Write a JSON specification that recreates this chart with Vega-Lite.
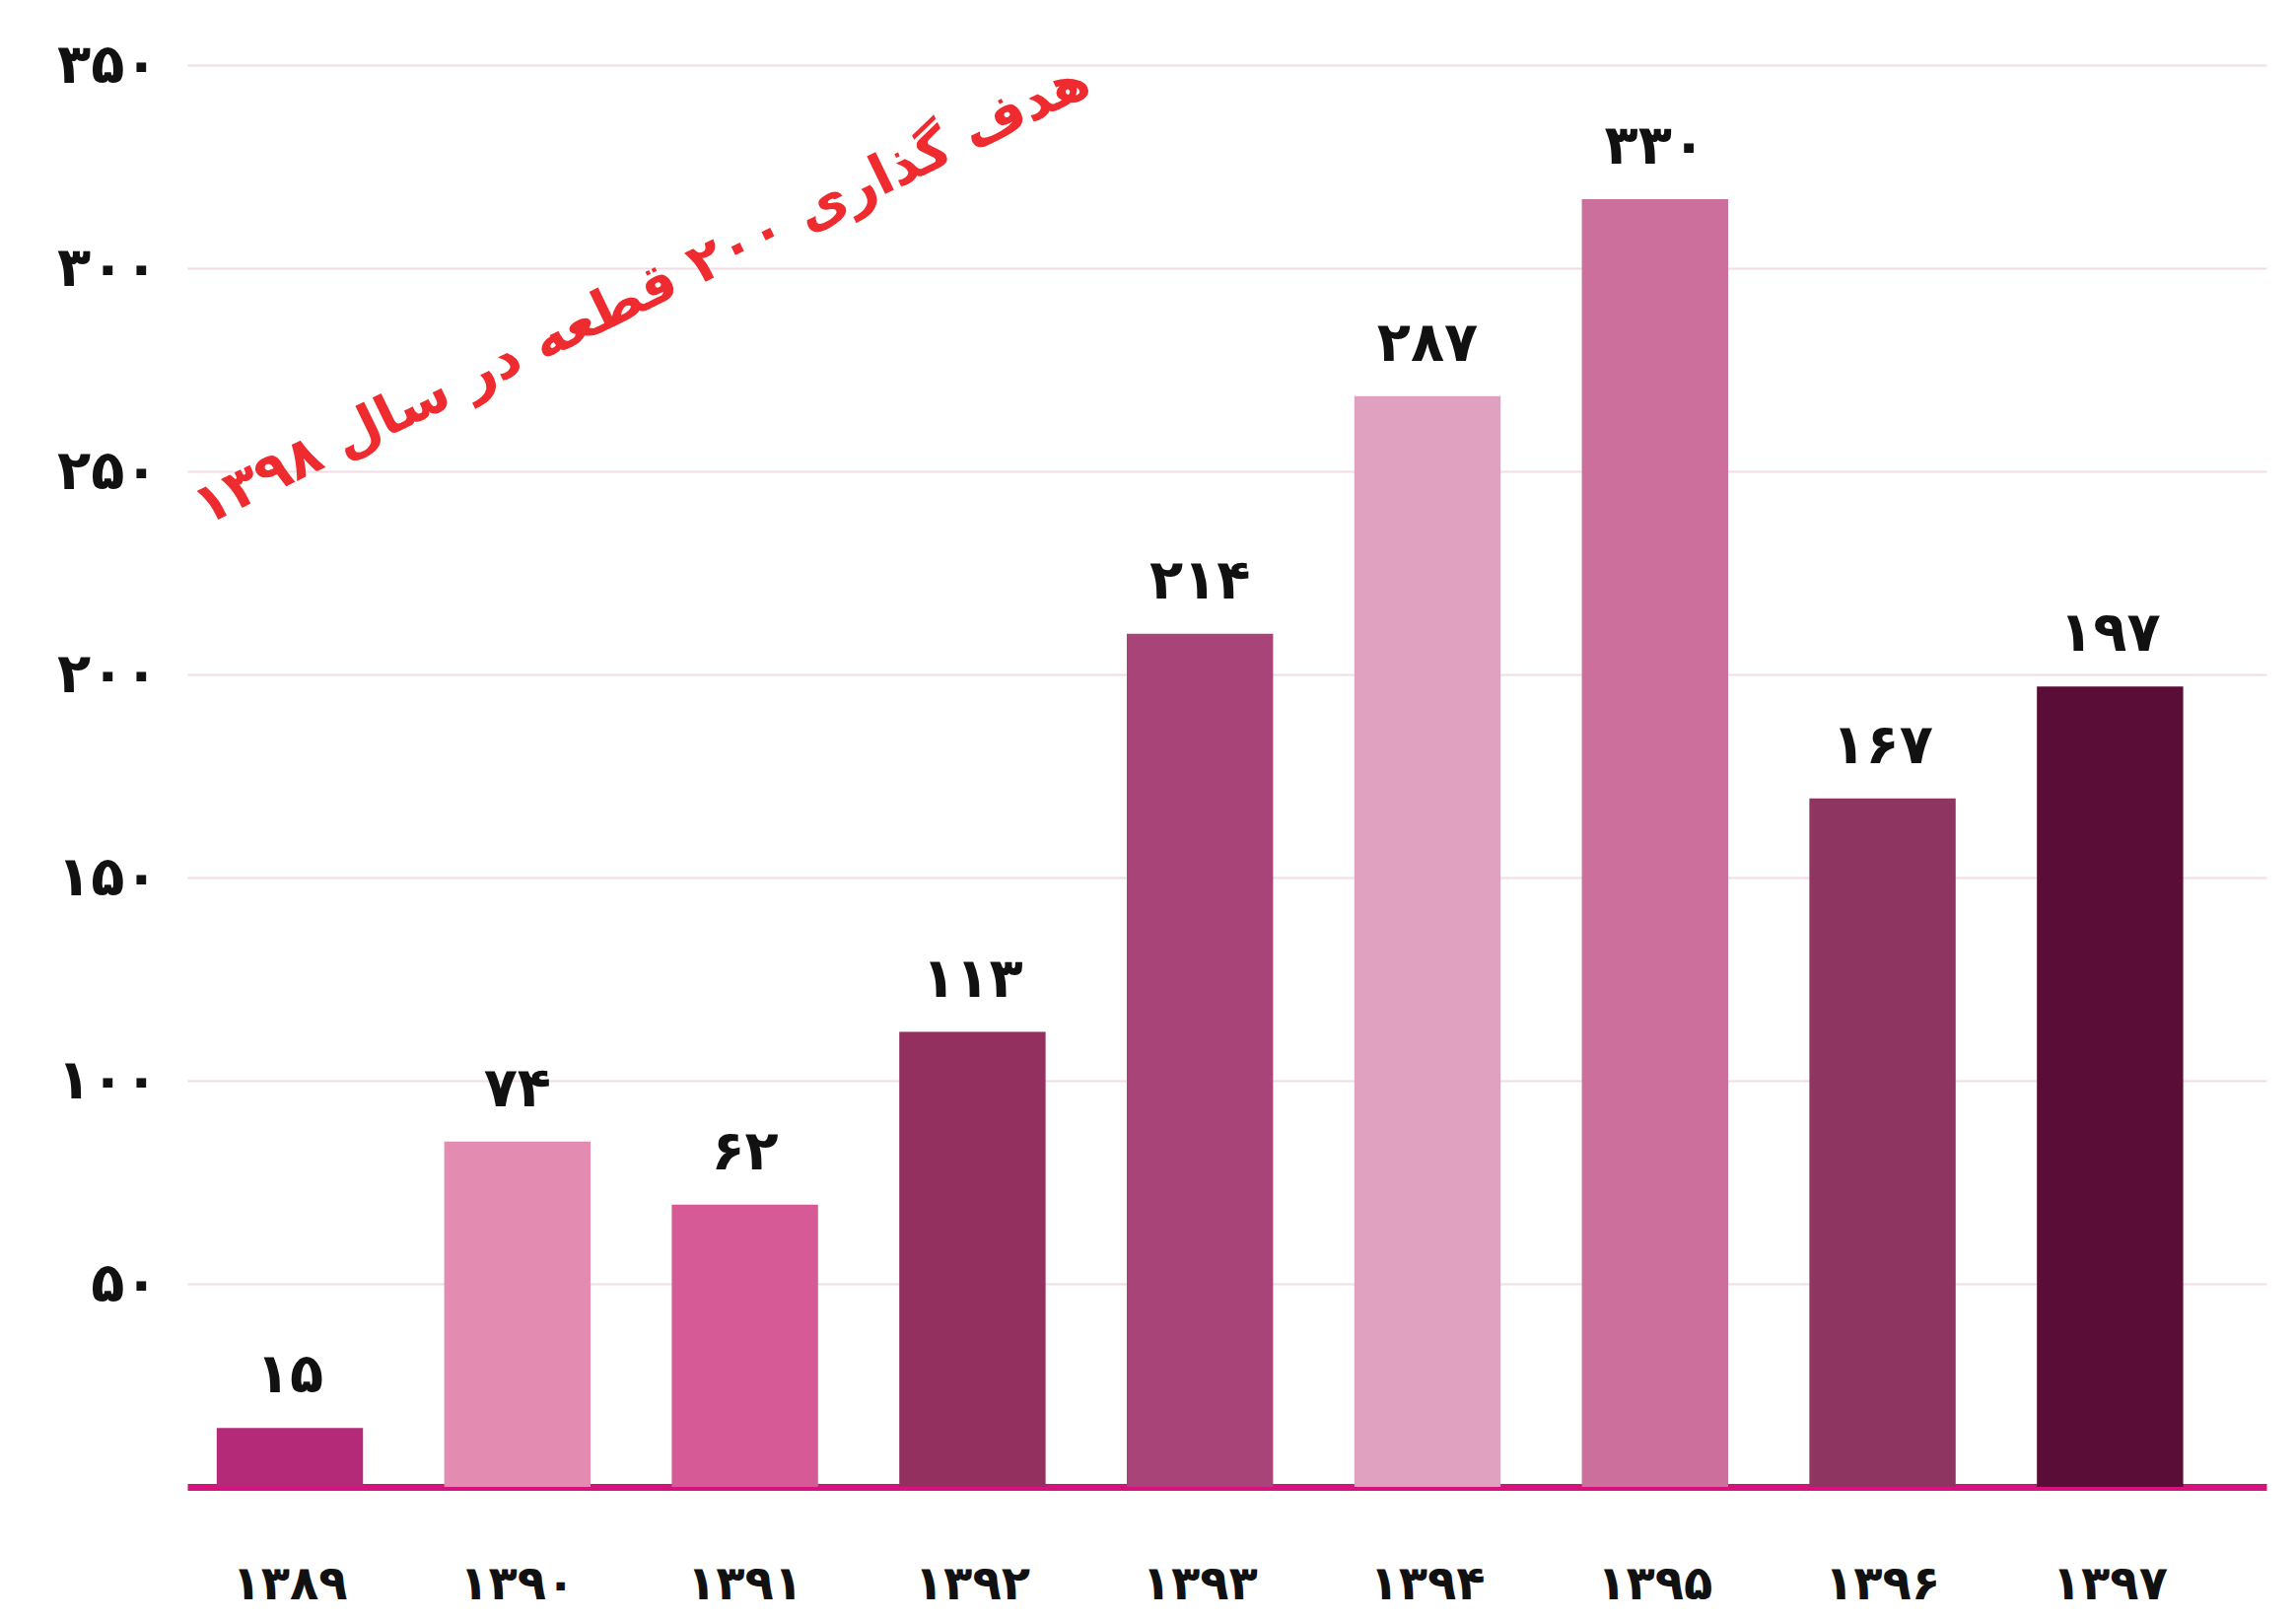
{
  "$schema": "https://vega.github.io/schema/vega-lite/v6.json",
  "width": 2109,
  "height": 1442,
  "autosize": {"type": "none"},
  "padding": {"left": 190, "top": 66, "right": 30, "bottom": 135},
  "background": "#ffffff",
  "config": {
    "view": {"stroke": null},
    "font": "DejaVu Sans"
  },
  "datasets": {
    "bars": [
      {"year": "۱۳۸۹", "height": 14.5, "label": "۱۵"},
      {"year": "۱۳۹۰", "height": 85, "label": "۷۴"},
      {"year": "۱۳۹۱", "height": 69.5, "label": "۶۲"},
      {"year": "۱۳۹۲", "height": 112, "label": "۱۱۳"},
      {"year": "۱۳۹۳", "height": 210, "label": "۲۱۴"},
      {"year": "۱۳۹۴", "height": 268.5, "label": "۲۸۷"},
      {"year": "۱۳۹۵", "height": 317, "label": "۳۳۰"},
      {"year": "۱۳۹۶", "height": 169.5, "label": "۱۶۷"},
      {"year": "۱۳۹۷", "height": 197, "label": "۱۹۷"}
    ],
    "note": [
      {"year": "۱۳۹۱", "height": 306, "note": "هدف گذاری ۲۰۰ قطعه در سال ۱۳۹۸"}
    ]
  },
  "encoding": {
    "x": {
      "field": "year",
      "type": "nominal",
      "sort": null,
      "scale": {
        "domain": ["۱۳۸۹", "۱۳۹۰", "۱۳۹۱", "۱۳۹۲", "۱۳۹۳", "۱۳۹۴", "۱۳۹۵", "۱۳۹۶", "۱۳۹۷"],
        "paddingInner": 0.357,
        "paddingOuter": 0.2475,
        "align": 0.261
      },
      "axis": {
        "title": null,
        "labelAngle": 0,
        "labelFont": "DejaVu Sans",
        "labelFontWeight": "bold",
        "labelFontSize": 48,
        "labelColor": "#111111",
        "labelPadding": 75,
        "ticks": false,
        "domain": true,
        "domainColor": "#d6127f",
        "domainWidth": 7,
        "grid": false
      }
    },
    "y": {
      "field": "height",
      "type": "quantitative",
      "scale": {"domain": [0, 350], "nice": false},
      "axis": {
        "title": null,
        "values": [50, 100, 150, 200, 250, 300, 350],
        "labelExpr": "{'50':'۵۰','100':'۱۰۰','150':'۱۵۰','200':'۲۰۰','250':'۲۵۰','300':'۳۰۰','350':'۳۵۰'}[toString(datum.value)]",
        "labelFont": "DejaVu Sans",
        "labelFontWeight": "bold",
        "labelFontSize": 56,
        "labelColor": "#111111",
        "labelPadding": 30,
        "ticks": false,
        "domain": false,
        "grid": true,
        "gridColor": "#f2dde6",
        "gridWidth": 2
      }
    }
  },
  "layer": [
    {
      "data": {"name": "bars"},
      "mark": {"type": "bar"},
      "encoding": {
        "color": {
          "field": "year",
          "type": "nominal",
          "sort": null,
          "scale": {
            "domain": ["۱۳۸۹", "۱۳۹۰", "۱۳۹۱", "۱۳۹۲", "۱۳۹۳", "۱۳۹۴", "۱۳۹۵", "۱۳۹۶", "۱۳۹۷"],
            "range": ["#b52a78", "#e38bb1", "#d55a96", "#93305f", "#a84478", "#e0a0bf", "#cc6f9c", "#8f3562", "#5a0d36"]
          },
          "legend": null
        }
      }
    },
    {
      "data": {"name": "bars"},
      "mark": {
        "type": "text",
        "font": "DejaVu Sans",
        "fontWeight": "bold",
        "fontSize": 56,
        "color": "#111111",
        "baseline": "bottom",
        "dy": -24
      },
      "encoding": {
        "text": {"field": "label", "type": "nominal"}
      }
    },
    {
      "data": {"name": "note"},
      "mark": {
        "type": "text",
        "font": "DejaVu Sans",
        "fontWeight": "bold",
        "fontSize": 56,
        "color": "#ee2b2f",
        "angle": -26,
        "align": "center",
        "baseline": "middle",
        "dx": -116
      },
      "encoding": {
        "text": {"field": "note", "type": "nominal"}
      }
    }
  ]
}
